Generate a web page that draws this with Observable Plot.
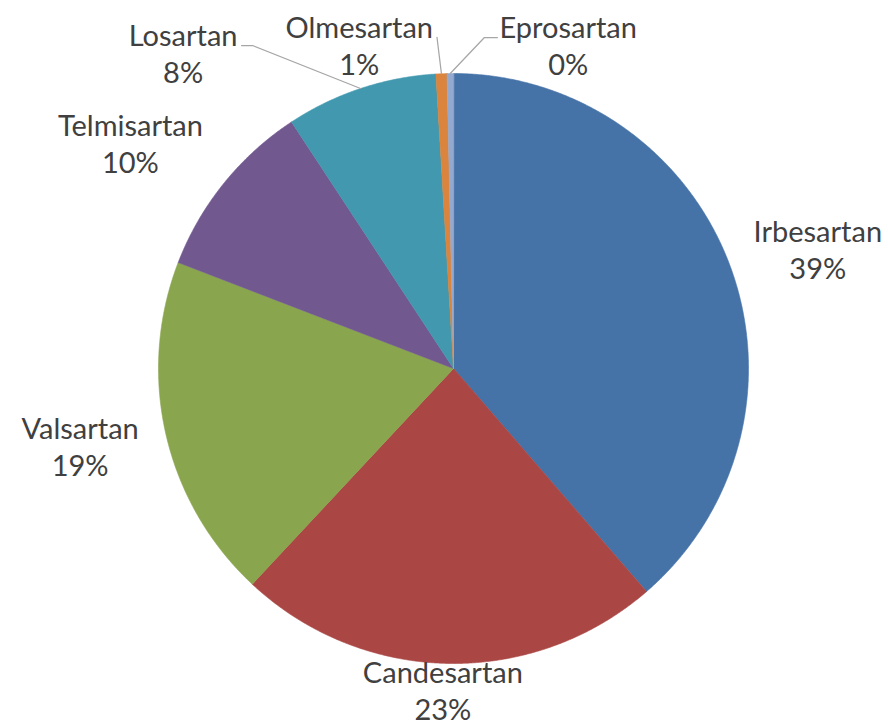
<!DOCTYPE html>
<html><head><meta charset="utf-8">
<script src="https://cdn.jsdelivr.net/npm/d3@7"></script>
<script src="https://cdn.jsdelivr.net/npm/@observablehq/plot@0.6"></script>
<style>body{margin:0;background:#fff}</style>
</head><body><div id="chart"></div>
<script>
// ---- data ----
const drugs = ["Irbesartan","Candesartan","Valsartan","Telmisartan","Losartan","Olmesartan","Eprosartan"];
const shares = [38.65, 23.3, 18.9, 9.9, 8.3, 0.6, 0.35];
const percentLabels = ["39%","23%","19%","10%","8%","1%","0%"];
const colors = ["#4572A7","#AA4643","#89A54E","#71588F","#4198AF","#DB843D","#93A9CF"];

// ---- layout ----
const W = 888, H = 728, CX = 453, CY = 368, R = 295;
const FONT = "Lato", FONT_SIZE = 29, LINE_H = 37;
const labelGap = 0.1;
const nudge = {Candesartan:[-3,-23], Telmisartan:[-14,-10], Losartan:[-151,11], Olmesartan:[-78,20], Eprosartan:[119,20.5]};
const withLeader = new Set(["Losartan","Olmesartan","Eprosartan"]);

const ctx = document.createElement("canvas").getContext("2d");
ctx.font = `${FONT_SIZE}px ${FONT}`;
const tw = s => ctx.measureText(s).width;

const arcs = d3.pie().sort(null).value(d => d)(shares);
const toX = px => (px - CX) / R, toY = py => (CY - py) / R;

const slicePts = [];
const labels = [];
const leaders = [];
arcs.forEach((a, i) => {
  const name = drugs[i];
  slicePts.push({name, x: 0, y: 0});
  const n = Math.max(2, Math.ceil((a.endAngle - a.startAngle) / 0.004) + 1);
  for (let k = 0; k < n; k++) {
    const t = a.startAngle + (a.endAngle - a.startAngle) * k / (n - 1);
    slicePts.push({name, x: Math.sin(t), y: Math.cos(t)});
  }
  const mid = (a.startAngle + a.endAngle) / 2;
  const s = Math.sin(mid), c = Math.cos(mid);
  const w = Math.max(tw(name), tw(percentLabels[i]));
  const [nx, ny] = nudge[name] || [0, 0];
  const px = CX + (1 + labelGap) * R * s + s * w / 2 + nx;
  const py = CY - (1 + labelGap) * R * c - c * 20 + ny;
  labels.push({name, x: toX(px), y: toY(py), text: name + "\n" + percentLabels[i]});
  if (withLeader.has(name)) {
    const ax = CX + R * s, ay = CY - R * c;
    const sy = py - 7;
    let pts;
    if (px + w / 2 < ax) {
      const sx = px + w / 2 + 4;
      pts = (ax - sx > 30) ? [[sx, sy], [sx + 11, sy], [ax, ay]] : [[sx, sy], [ax, ay]];
    } else {
      const sx = px - w / 2 - 2;
      pts = (sx - ax > 30) ? [[sx, sy], [sx - 13, sy], [ax, ay]] : [[sx, sy], [ax, ay]];
    }
    pts.forEach(([qx, qy]) => leaders.push({name, x: toX(qx), y: toY(qy)}));
  }
});

const chart = Plot.plot({
  width: W, height: H, margin: 0,
  x: {domain: [-1, 1], range: [CX - R, CX + R], axis: null},
  y: {domain: [-1, 1], range: [CY + R, CY - R], axis: null},
  color: {domain: drugs, range: colors},
  style: {fontFamily: FONT, background: "#fff"},
  marks: [
    Plot.line(slicePts, {x: "x", y: "y", z: "name", fill: "name", stroke: "name", strokeWidth: 0.6, curve: "linear-closed"}),
    Plot.line(leaders, {x: "x", y: "y", z: "name", stroke: "#a6a6a6", strokeWidth: 1.25, curve: "linear"}),
    Plot.text(labels, {x: "x", y: "y", text: "text", fill: "#404040", fontSize: FONT_SIZE, fontFamily: FONT, lineHeight: LINE_H / FONT_SIZE})
  ]
});
document.getElementById("chart").appendChild(chart);
</script>
</body></html>
